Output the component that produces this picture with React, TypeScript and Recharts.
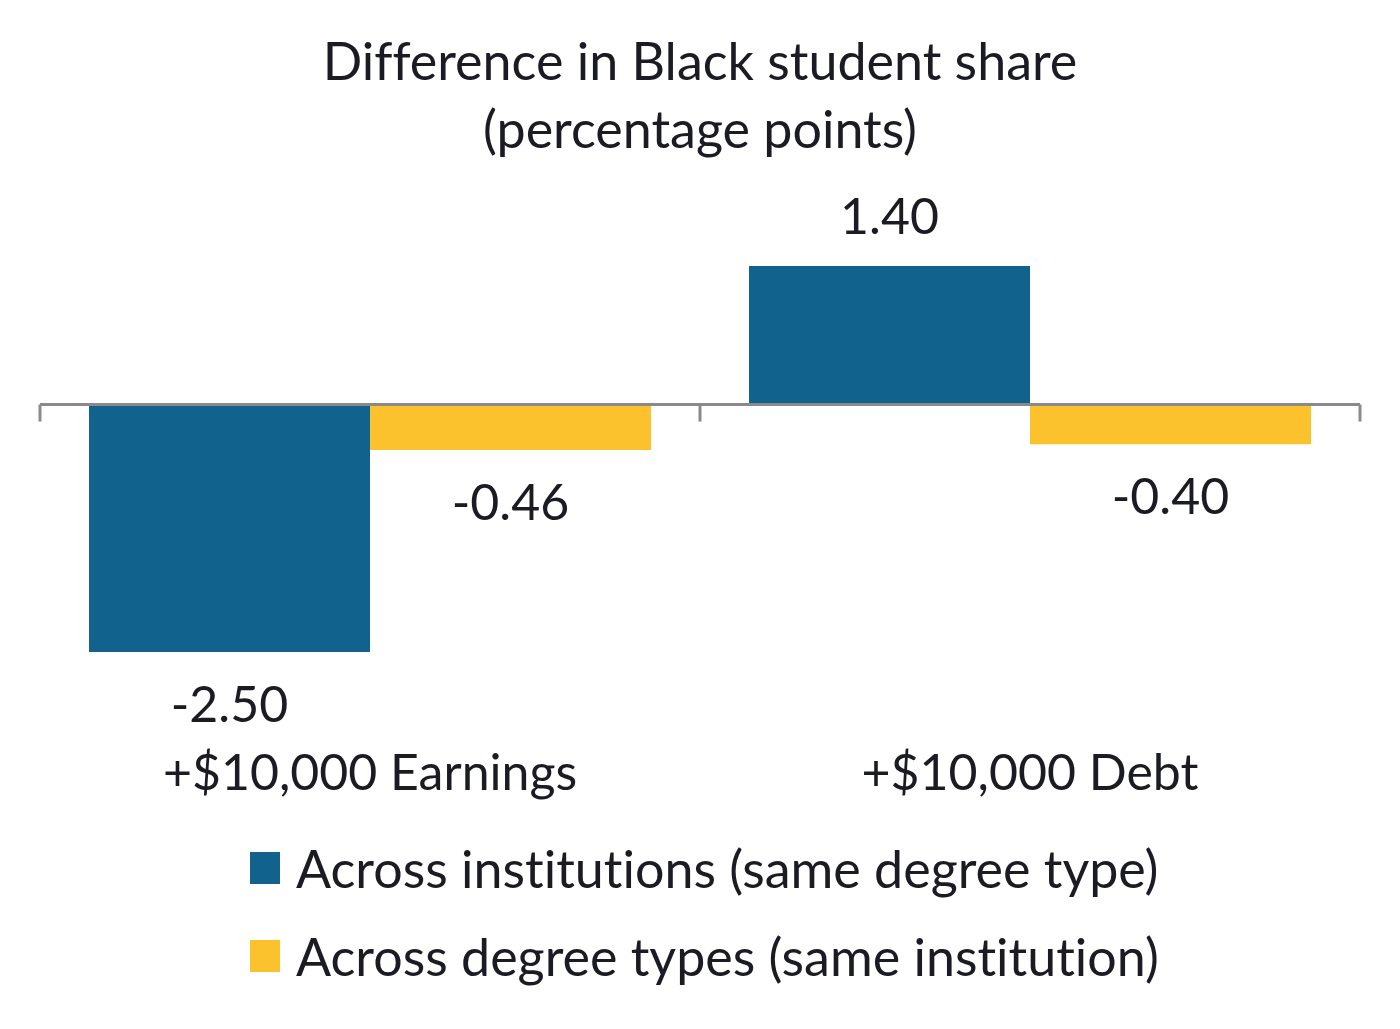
import { BarChart, Bar, XAxis, YAxis, LabelList, ReferenceLine } from "recharts";

const titleLines = ["Difference in Black student share", "(percentage points)"];
const categories = ["+$10,000 Earnings", "+$10,000 Debt"];
const acrossInstitutions = [-2.5, 1.4];
const acrossDegreeTypes = [-0.46, -0.4];
const seriesNames = [
  "Across institutions (same degree type)",
  "Across degree types (same institution)",
];
const seriesColors = ["#11628c", "#fbc22d"];

const FONT = "Lato, 'Source Sans Pro', sans-serif";
const INK = "#1b1b24";
const AXIS = "#8a8a8a";
const noLigatures = { fontVariantLigatures: "none" as const, fontFeatureSettings: '"liga" 0' };

const chartData = categories.map((category, i) => ({
  category,
  institutions: acrossInstitutions[i],
  degreeTypes: acrossDegreeTypes[i],
}));

function ValueLabel(props: any) {
  const { x, y, width, height, value } = props;
  const top = Math.min(y, y + height);
  const bottom = Math.max(y, y + height);
  const cx = x + width / 2;
  const ty = value >= 0 ? top - 32 : bottom + 70;
  return (
    <text x={cx} y={ty} textAnchor="middle" fill={INK} fontSize={50} fontFamily={FONT}>
      {Number(value).toFixed(2)}
    </text>
  );
}

function CategoryTick(props: any) {
  const { x, y, payload } = props;
  return (
    <text x={x} y={y} dy={130} textAnchor="middle" fill={INK} fontSize={50} fontFamily={FONT}>
      {payload.value}
    </text>
  );
}

// zero line with ticks at the category boundaries
function ZeroAxis(props: any) {
  const { x1, y1, x2, y2 } = props;
  const mid = (x1 + x2) / 2;
  return (
    <g stroke={AXIS} strokeWidth={3}>
      <line x1={x1} y1={y1} x2={x2} y2={y2} />
      {[x1, mid, x2].map((tx, i) => (
        <line key={i} x1={tx} y1={y1} x2={tx} y2={y1 + 17} />
      ))}
    </g>
  );
}

export default function App() {
  return (
    <div style={{ position: "absolute", left: 0, top: 0, width: 1400, height: 1029, background: "#fff" }}>
      <div
        style={{
          position: "absolute",
          left: 0,
          top: 26,
          width: 1400,
          textAlign: "center",
          fontFamily: FONT,
          fontSize: 52,
          lineHeight: "68px",
          color: INK,
          ...noLigatures,
        }}
      >
        {titleLines.map((line) => (
          <div key={line}>{line}</div>
        ))}
      </div>
      <BarChart
        width={1400}
        height={1029}
        data={chartData}
        margin={{ top: 266, right: 40, bottom: 347, left: 40 }}
        barCategoryGap={49}
        barGap={0}
      >
        <XAxis dataKey="category" axisLine={false} tickLine={false} height={30} tick={<CategoryTick />} />
        <YAxis hide domain={[-2.5, 1.4]} type="number" allowDataOverflow />
        <Bar dataKey="institutions" fill={seriesColors[0]} isAnimationActive={false}>
          <LabelList dataKey="institutions" content={<ValueLabel />} />
        </Bar>
        <Bar dataKey="degreeTypes" fill={seriesColors[1]} isAnimationActive={false}>
          <LabelList dataKey="degreeTypes" content={<ValueLabel />} />
        </Bar>
        <ReferenceLine y={0} shape={<ZeroAxis />} />
      </BarChart>
      <div
        style={{
          position: "absolute",
          left: 250,
          top: 824,
          fontFamily: FONT,
          fontSize: 52,
          color: INK,
          ...noLigatures,
        }}
      >
        {seriesNames.map((name, i) => (
          <div key={name} style={{ display: "flex", alignItems: "center", height: 88 }}>
            <span style={{ display: "inline-block", width: 30, height: 32, background: seriesColors[i], marginRight: 16 }} />
            <span>{name}</span>
          </div>
        ))}
      </div>
    </div>
  );
}
